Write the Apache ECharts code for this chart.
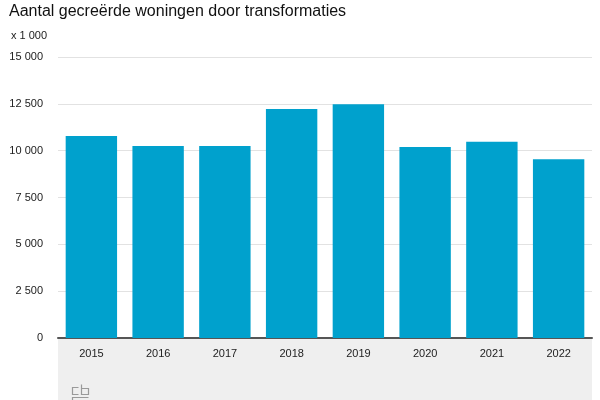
<!DOCTYPE html>
<html><head><meta charset="utf-8">
<script src="https://cdn.jsdelivr.net/npm/echarts@6/dist/echarts.min.js"></script>
<style>html,body{margin:0;padding:0;background:#fff}#c{width:600px;height:400px}</style>
</head><body><div id="c"></div>
<script>
const categories = ['2015','2016','2017','2018','2019','2020','2021','2022'];
const values = [10780, 10250, 10250, 12220, 12480, 10190, 10470, 9540];
const yTicks = [0, 2500, 5000, 7500, 10000, 12500, 15000];
const titleText = 'Aantal gecreërde woningen door transformaties';
const unitText = 'x 1 000';

function fmt(v){ return String(v).replace(/\B(?=(\d{3})+(?!\d))/g, ' '); }

const chart = echarts.init(document.getElementById('c'), null, {renderer:'canvas'});
chart.setOption({
  animation:false,
  backgroundColor:'#fff',
  title:[{text:titleText,left:4,top:-1,textStyle:{fontFamily:'Liberation Sans, Arial',fontSize:16,fontWeight:'normal',color:'#111'}},
         {text:unitText,left:6,top:25,textStyle:{fontFamily:'Liberation Sans, Arial',fontSize:11,fontWeight:'normal',color:'#222'}}],
  graphic:[
    {type:'rect',left:58,top:338,shape:{width:534,height:62},style:{fill:'#efefef'},z:-1},
    {type:'group',left:70,top:382,children:[
      {type:'polyline',shape:{points:[[6,3],[0,3],[0,10],[6,10]]},style:{stroke:'#9a9a9a',fill:null,lineWidth:1.2}},
      {type:'polyline',shape:{points:[[9,0],[9,10],[16,10],[16,4],[9,4]]},style:{stroke:'#9a9a9a',fill:null,lineWidth:1.2}},
      {type:'polyline',shape:{points:[[16,13],[0,13],[0,16],[16,16],[16,20],[0,20]]},style:{stroke:'#9a9a9a',fill:null,lineWidth:1.2}}
    ]}
  ],
  grid:{left:58,right:8,top:57,bottom:62},
  xAxis:{type:'category',data:categories,
    axisLine:{lineStyle:{color:'#555',width:2}},axisTick:{show:false},
    axisLabel:{color:'#222',fontSize:11,fontFamily:'Liberation Sans, Arial',margin:10}},
  yAxis:{type:'value',min:0,max:15000,interval:2500,
    axisLine:{show:false},axisTick:{show:false},
    splitLine:{lineStyle:{color:'#e2e2e2',width:1}},
    axisLabel:{color:'#222',fontSize:11,fontFamily:'Liberation Sans, Arial',margin:15,
      formatter:v=>yTicks.includes(v)?fmt(v):''}},
  series:[{type:'bar',data:values,barCategoryGap:'23%',itemStyle:{color:'#00a1cd'}}]
});
</script></body></html>
